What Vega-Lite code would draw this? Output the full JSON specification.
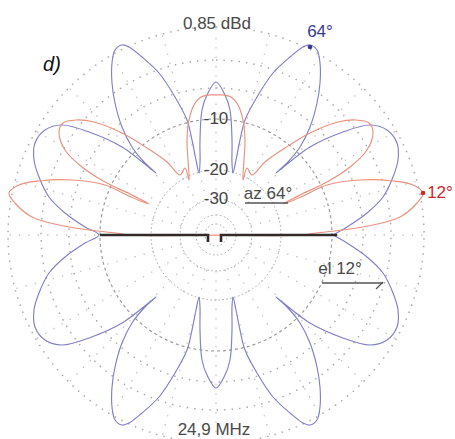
{
"$schema": "https://vega.github.io/schema/vega-lite/v6.json",
"width": 455, "height": 439, "autosize": "none", "padding": 0,
"background": "white",
"config": {"view": {"stroke": null}, "text": {"font": "Liberation Sans"}},
"datasets": {
"rings": [{"db":0,"r":208},{"db":-3,"r":175},{"db":-6,"r":147},{"db":-10,"r":116},{"db":-20,"r":65},{"db":-30,"r":36},{"db":-40,"r":20},{"db":-50,"r":11}],
"spokes": [
{"x":36,"y":0,"x2":208,"y2":0},{"x":34.8,"y":9.3,"x2":200.9,"y2":53.8},{"x":31.2,"y":18,"x2":180.1,"y2":104},{"x":25.5,"y":25.5,"x2":147.1,"y2":147.1},{"x":18,"y":31.2,"x2":104,"y2":180.1},{"x":9.3,"y":34.8,"x2":53.8,"y2":200.9},{"x":0,"y":36,"x2":0,"y2":208},{"x":-9.3,"y":34.8,"x2":-53.8,"y2":200.9},{"x":-18,"y":31.2,"x2":-104,"y2":180.1},{"x":-25.5,"y":25.5,"x2":-147.1,"y2":147.1},{"x":-31.2,"y":18,"x2":-180.1,"y2":104},{"x":-34.8,"y":9.3,"x2":-200.9,"y2":53.8},{"x":-36,"y":0,"x2":-208,"y2":0},{"x":-34.8,"y":-9.3,"x2":-200.9,"y2":-53.8},{"x":-31.2,"y":-18,"x2":-180.1,"y2":-104},{"x":-25.5,"y":-25.5,"x2":-147.1,"y2":-147.1},{"x":-18,"y":-31.2,"x2":-104,"y2":-180.1},{"x":-9.3,"y":-34.8,"x2":-53.8,"y2":-200.9},{"x":0,"y":-36,"x2":0,"y2":-208},{"x":9.3,"y":-34.8,"x2":53.8,"y2":-200.9},{"x":18,"y":-31.2,"x2":104,"y2":-180.1},{"x":25.5,"y":-25.5,"x2":147.1,"y2":-147.1},{"x":31.2,"y":-18,"x2":180.1,"y2":-104},{"x":34.8,"y":-9.3,"x2":200.9,"y2":-53.8}],
"blue": [
{"x":117,"y":0},{"x":131,"y":8},{"x":151,"y":22},{"x":167,"y":38},{"x":177,"y":58},{"x":182,"y":75},{"x":181,"y":92},{"x":171,"y":105},{"x":154,"y":110},{"x":127,"y":103},{"x":94,"y":88},{"x":60,"y":62},{"x":71,"y":72},{"x":84,"y":88},{"x":94,"y":108},{"x":101,"y":132},{"x":104,"y":152},{"x":104,"y":172},{"x":101,"y":185},{"x":94,"y":190},{"x":87,"y":188},{"x":74,"y":178},{"x":57,"y":162},{"x":41,"y":138},{"x":29,"y":115},{"x":24,"y":95},{"x":20,"y":75},{"x":17,"y":62},{"x":16,"y":72},{"x":16,"y":95},{"x":14,"y":125},{"x":9,"y":140},{"x":0,"y":153},
{"x":-9,"y":140},{"x":-14,"y":125},{"x":-16,"y":95},{"x":-16,"y":72},{"x":-17,"y":62},{"x":-20,"y":75},{"x":-24,"y":95},{"x":-29,"y":115},{"x":-41,"y":138},{"x":-57,"y":162},{"x":-74,"y":178},{"x":-87,"y":188},{"x":-94,"y":190},{"x":-101,"y":185},{"x":-104,"y":172},{"x":-104,"y":152},{"x":-101,"y":132},{"x":-94,"y":108},{"x":-84,"y":88},{"x":-71,"y":72},{"x":-60,"y":62},{"x":-94,"y":88},{"x":-127,"y":103},{"x":-154,"y":110},{"x":-171,"y":105},{"x":-181,"y":92},{"x":-182,"y":75},{"x":-177,"y":58},{"x":-167,"y":38},{"x":-151,"y":22},{"x":-131,"y":8},{"x":-117,"y":0},
{"x":-131,"y":-8},{"x":-151,"y":-22},{"x":-167,"y":-38},{"x":-177,"y":-58},{"x":-182,"y":-75},{"x":-181,"y":-92},{"x":-171,"y":-105},{"x":-154,"y":-110},{"x":-127,"y":-103},{"x":-94,"y":-88},{"x":-60,"y":-62},{"x":-71,"y":-72},{"x":-84,"y":-88},{"x":-94,"y":-108},{"x":-101,"y":-132},{"x":-104,"y":-152},{"x":-104,"y":-172},{"x":-101,"y":-185},{"x":-94,"y":-190},{"x":-87,"y":-188},{"x":-74,"y":-178},{"x":-57,"y":-162},{"x":-41,"y":-138},{"x":-29,"y":-115},{"x":-24,"y":-95},{"x":-20,"y":-75},{"x":-17,"y":-62},{"x":-16,"y":-72},{"x":-16,"y":-95},{"x":-14,"y":-125},{"x":-9,"y":-140},{"x":0,"y":-153},
{"x":9,"y":-140},{"x":14,"y":-125},{"x":16,"y":-95},{"x":16,"y":-72},{"x":17,"y":-62},{"x":20,"y":-75},{"x":24,"y":-95},{"x":29,"y":-115},{"x":41,"y":-138},{"x":57,"y":-162},{"x":74,"y":-178},{"x":87,"y":-188},{"x":94,"y":-190},{"x":101,"y":-185},{"x":104,"y":-172},{"x":104,"y":-152},{"x":101,"y":-132},{"x":94,"y":-108},{"x":84,"y":-88},{"x":71,"y":-72},{"x":60,"y":-62},{"x":94,"y":-88},{"x":127,"y":-103},{"x":154,"y":-110},{"x":171,"y":-105},{"x":181,"y":-92},{"x":182,"y":-75},{"x":177,"y":-58},{"x":167,"y":-38},{"x":151,"y":-22},{"x":131,"y":-8},{"x":117,"y":0}],
"red": [
{"x":0,"y":0},{"x":87,"y":0},{"x":100,"y":2},{"x":127,"y":5},{"x":157,"y":10},{"x":184,"y":18},{"x":201,"y":32},{"x":207,"y":42},{"x":197,"y":50},{"x":177,"y":54},{"x":144,"y":55},{"x":111,"y":50},{"x":85,"y":38},{"x":67,"y":31},{"x":84,"y":40},{"x":111,"y":53},{"x":134,"y":68},{"x":151,"y":85},{"x":157,"y":103},{"x":153,"y":112},{"x":140,"y":115},{"x":122,"y":113},{"x":94,"y":102},{"x":69,"y":87},{"x":49,"y":73},{"x":36,"y":60},{"x":31,"y":67},{"x":27,"y":55},{"x":28,"y":75},{"x":29,"y":95},{"x":27,"y":115},{"x":22,"y":130},{"x":15,"y":138},{"x":7,"y":140},{"x":0,"y":140},
{"x":-7,"y":140},{"x":-15,"y":138},{"x":-22,"y":130},{"x":-27,"y":115},{"x":-29,"y":95},{"x":-28,"y":75},{"x":-27,"y":55},{"x":-31,"y":67},{"x":-36,"y":60},{"x":-49,"y":73},{"x":-69,"y":87},{"x":-94,"y":102},{"x":-122,"y":113},{"x":-140,"y":115},{"x":-153,"y":112},{"x":-157,"y":103},{"x":-151,"y":85},{"x":-134,"y":68},{"x":-111,"y":53},{"x":-84,"y":40},{"x":-67,"y":31},{"x":-85,"y":38},{"x":-111,"y":50},{"x":-144,"y":55},{"x":-177,"y":54},{"x":-197,"y":50},{"x":-207,"y":42},{"x":-201,"y":32},{"x":-184,"y":18},{"x":-157,"y":10},{"x":-127,"y":5},{"x":-100,"y":2},{"x":-87,"y":0},{"x":0,"y":0}],
"antenna": [
{"seg":"L","x":-116,"y":0},{"seg":"L","x":-8,"y":0},{"seg":"L","x":-8,"y":-7},
{"seg":"R","x":5,"y":-7},{"seg":"R","x":5,"y":0},{"seg":"R","x":121,"y":0}],
"marks": [{"s":"az","x":29,"y":32,"x2":72,"y2":32},{"s":"el","x":106,"y":-48,"x2":167,"y2":-48},{"s":"el","x":167,"y":-47,"x2":160,"y2":-54}],
"peaks": [{"p":"az 64","x":94,"y":188},{"p":"el 12","x":207,"y":42}],
"labels": [
{"t":"0,85 dBd","x":1,"y":211},{"t":"d)","x":-164,"y":170},{"t":"64°","x":104,"y":203},{"t":"12°","x":224,"y":42},{"t":"az 64°","x":52,"y":41},{"t":"el 12°","x":124,"y":-34},{"t":"24,9 MHz","x":-2,"y":-195}]
},
"layer": [
{"data":{"name":"spokes"},
 "mark":{"type":"rule","color":"#c4c4c4","strokeWidth":1.4,"strokeDash":[1.4,8]},
 "encoding":{"x":{"field":"x","type":"quantitative","scale":{"domain":[-216,239],"nice":false,"zero":false},"axis":null},
  "y":{"field":"y","type":"quantitative","scale":{"domain":[-204,235],"nice":false,"zero":false},"axis":null},
  "x2":{"field":"x2"},"y2":{"field":"y2"}}},
{"data":{"name":"rings"},"transform":[{"filter":"datum.db > -10"}],
 "mark":{"type":"arc","filled":false,"stroke":"#aaaaaa","strokeWidth":1.5,"strokeDash":[1.5,6],"theta":0,"theta2":6.2832},
 "encoding":{"x":{"datum":0,"type":"quantitative","scale":{"domain":[-216,239],"nice":false,"zero":false},"axis":null},
  "y":{"datum":0,"type":"quantitative","scale":{"domain":[-204,235],"nice":false,"zero":false},"axis":null},
  "radius":{"field":"r","type":"quantitative","scale":null,"stack":null}}},
{"data":{"name":"rings"},"transform":[{"filter":"datum.db == -10"}],
 "mark":{"type":"arc","filled":false,"stroke":"#9c9c9c","strokeWidth":1.2,"strokeDash":[3,3],"theta":0,"theta2":6.2832},
 "encoding":{"x":{"datum":0,"type":"quantitative","scale":{"domain":[-216,239],"nice":false,"zero":false},"axis":null},
  "y":{"datum":0,"type":"quantitative","scale":{"domain":[-204,235],"nice":false,"zero":false},"axis":null},
  "radius":{"field":"r","type":"quantitative","scale":null,"stack":null}}},
{"data":{"name":"rings"},"transform":[{"filter":"datum.db < -10"}],
 "mark":{"type":"arc","filled":false,"stroke":"#a4a4a4","strokeWidth":1,"strokeDash":[1.5,2.5],"theta":0,"theta2":6.2832},
 "encoding":{"x":{"datum":0,"type":"quantitative","scale":{"domain":[-216,239],"nice":false,"zero":false},"axis":null},
  "y":{"datum":0,"type":"quantitative","scale":{"domain":[-204,235],"nice":false,"zero":false},"axis":null},
  "radius":{"field":"r","type":"quantitative","scale":null,"stack":null}}},
{"data":{"name":"blue"},
 "mark":{"type":"line","color":"#8080c6","strokeWidth":1.15,"interpolate":"catmull-rom"},
 "encoding":{"x":{"field":"x","type":"quantitative","scale":{"domain":[-216,239],"nice":false,"zero":false},"axis":null},
  "y":{"field":"y","type":"quantitative","scale":{"domain":[-204,235],"nice":false,"zero":false},"axis":null},
  "order":{"value":null}}},
{"data":{"name":"red"},
 "mark":{"type":"line","color":"#ea917f","strokeWidth":1.15,"interpolate":"catmull-rom"},
 "encoding":{"x":{"field":"x","type":"quantitative","scale":{"domain":[-216,239],"nice":false,"zero":false},"axis":null},
  "y":{"field":"y","type":"quantitative","scale":{"domain":[-204,235],"nice":false,"zero":false},"axis":null},
  "order":{"value":null}}},
{"data":{"name":"antenna"},
 "mark":{"type":"line","color":"#332a2a","strokeWidth":2.6},
 "encoding":{"x":{"field":"x","type":"quantitative","scale":{"domain":[-216,239],"nice":false,"zero":false},"axis":null},
  "y":{"field":"y","type":"quantitative","scale":{"domain":[-204,235],"nice":false,"zero":false},"axis":null},
  "detail":{"field":"seg"},"order":{"value":null}}},
{"data":{"name":"marks"},
 "mark":{"type":"rule","color":"#555555","strokeWidth":1.3},
 "encoding":{"x":{"field":"x","type":"quantitative","scale":{"domain":[-216,239],"nice":false,"zero":false},"axis":null},
  "y":{"field":"y","type":"quantitative","scale":{"domain":[-204,235],"nice":false,"zero":false},"axis":null},
  "x2":{"field":"x2"},"y2":{"field":"y2"}}},
{"data":{"name":"peaks"},
 "mark":{"type":"point","filled":true,"size":22,"opacity":1},
 "encoding":{"x":{"field":"x","type":"quantitative","scale":{"domain":[-216,239],"nice":false,"zero":false},"axis":null},
  "y":{"field":"y","type":"quantitative","scale":{"domain":[-204,235],"nice":false,"zero":false},"axis":null},
  "color":{"field":"p","type":"nominal","scale":{"domain":["az 64","el 12"],"range":["#3a3a8a","#cc2a2a"]},"legend":null}}},
{"data":{"name":"rings"},"transform":[{"filter":"datum.db == -10 || datum.db == -20 || datum.db == -30"}],
 "mark":{"type":"text","fontSize":17,"color":"#444444","baseline":"middle","align":"center"},
 "encoding":{"x":{"datum":0,"type":"quantitative","scale":{"domain":[-216,239],"nice":false,"zero":false},"axis":null},
  "y":{"field":"r","type":"quantitative","scale":{"domain":[-204,235],"nice":false,"zero":false},"axis":null},
  "text":{"field":"db","type":"nominal"}}},
{"data":{"name":"labels"},"transform":[{"filter":"datum.t == '0,85 dBd' || datum.t == 'az 64°' || datum.t == 'el 12°' || datum.t == '24,9 MHz'"}],
 "mark":{"type":"text","fontSize":17,"color":"#4a4a4a","baseline":"middle","align":"center"},
 "encoding":{"x":{"field":"x","type":"quantitative","scale":{"domain":[-216,239],"nice":false,"zero":false},"axis":null},
  "y":{"field":"y","type":"quantitative","scale":{"domain":[-204,235],"nice":false,"zero":false},"axis":null},
  "text":{"field":"t","type":"nominal"}}},
{"data":{"name":"labels"},"transform":[{"filter":"datum.t == 'd)'"}],
 "mark":{"type":"text","fontSize":20,"fontStyle":"italic","color":"#111111","baseline":"middle","align":"center"},
 "encoding":{"x":{"field":"x","type":"quantitative","scale":{"domain":[-216,239],"nice":false,"zero":false},"axis":null},
  "y":{"field":"y","type":"quantitative","scale":{"domain":[-204,235],"nice":false,"zero":false},"axis":null},
  "text":{"field":"t","type":"nominal"}}},
{"data":{"name":"labels"},"transform":[{"filter":"datum.t == '64°' || datum.t == '12°'"}],
 "mark":{"type":"text","fontSize":17,"baseline":"middle","align":"center"},
 "encoding":{"x":{"field":"x","type":"quantitative","scale":{"domain":[-216,239],"nice":false,"zero":false},"axis":null},
  "y":{"field":"y","type":"quantitative","scale":{"domain":[-204,235],"nice":false,"zero":false},"axis":null},
  "text":{"field":"t","type":"nominal"},
  "color":{"field":"t","type":"nominal","scale":{"domain":["64°","12°"],"range":["#6464b0","#d84a4a"]},"legend":null}}}
]
}
